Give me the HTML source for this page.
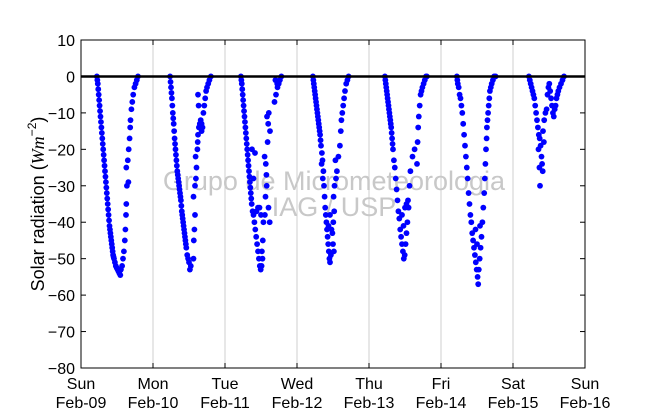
<!DOCTYPE html>
<html><head><meta charset="utf-8"><style>
body{margin:0;background:#fff;}
svg{display:block;font-family:"Liberation Sans",sans-serif;}
</style></head><body>
<svg id="chart" width="650" height="409">
<rect width="650" height="409" fill="#fff"/>
<g id="grid"></g>
<text x="334" y="190" font-size="27" fill="#c8c8c8" text-anchor="middle">Grupo de Micrometeorologia</text>
<text x="334" y="216" font-size="27" fill="#c8c8c8" text-anchor="middle">IAG / USP</text>
<g id="points"></g>
<line id="zeroline" stroke="#000" stroke-width="2.5"/>
<rect x="81" y="40" width="504" height="328" fill="none" stroke="#000" stroke-width="1"/>
<g id="yticks"></g>
<g id="xticks"></g>
<text transform="translate(44,204) rotate(-90)" font-size="18" text-anchor="middle">Solar radiation (<tspan font-family="Liberation Serif" font-style="italic">Wm</tspan><tspan font-size="12" dy="-8">−2</tspan><tspan dy="8">)</tspan></text>
</svg>
<script>
const yTicks=[10,0,-10,-20,-30,-40,-50,-60,-70,-80];
const dayNames=["Sun","Mon","Tue","Wed","Thu","Fri","Sat","Sun"];
const dayDates=["Feb-09","Feb-10","Feb-11","Feb-12","Feb-13","Feb-14","Feb-15","Feb-16"];
const day0=[[5.3,0],[5.45,-1],[5.6,-2],[5.75,-3.5],[5.9,-5],[6.05,-6.5],[6.2,-8],[6.35,-9.5],[6.5,-11],[6.65,-12.5],[6.8,-14],[6.95,-15.5],[7.1,-17],[7.25,-18.5],[7.4,-20],[7.55,-21.5],[7.7,-23],[7.85,-24.5],[8.0,-26],[8.15,-27.5],[8.3,-29],[8.45,-30.5],[8.6,-32],[8.75,-33.5],[8.9,-35],[9.05,-36.5],[9.2,-38],[9.35,-39.5],[9.5,-41],[9.65,-42],[9.8,-43],[9.95,-44],[10.1,-45],[10.25,-46],[10.4,-47],[10.55,-48],[10.7,-49],[10.85,-49.5],[11.0,-50],[11.3,-51],[11.6,-52],[11.9,-52.5],[12.2,-53],[12.5,-53.5],[12.8,-54],[13.1,-54.5],[13.3,-53],[13.7,-52],[14.0,-50],[14.3,-48],[14.6,-45],[14.8,-42],[15.0,-38],[15.1,-35],[15.3,-30],[15.1,-25],[15.6,-23],[15.8,-29],[15.9,-20],[16.2,-17],[16.4,-14],[16.5,-12],[16.8,-9],[17.1,-7],[17.4,-5],[17.8,-3],[18.2,-2],[18.6,-1],[19.0,0]];
const day1=[[5.7,0],[5.85,-1.5],[6.0,-3],[6.15,-4.5],[6.3,-6],[6.45,-8],[6.6,-10],[6.75,-11.5],[6.9,-13],[7.05,-15],[7.2,-17],[7.35,-18.5],[7.5,-20],[7.65,-21.5],[7.8,-23],[7.95,-24.5],[8.1,-26],[8.25,-27],[8.4,-28],[8.55,-29],[8.7,-30],[8.85,-31],[9.0,-32],[9.15,-33],[9.3,-34],[9.45,-35.5],[9.6,-37],[9.75,-38],[9.9,-39],[10.05,-40],[10.2,-41],[10.35,-42],[10.5,-43],[10.65,-44],[10.8,-45],[10.95,-46],[11.1,-47],[11.4,-49],[11.7,-50],[12.0,-51],[12.3,-53],[12.6,-52],[13.5,-50],[13.6,-45],[13.8,-42],[13.5,-33],[14.0,-30],[14.3,-28],[14.5,-25],[14.2,-22],[14.8,-20],[14.9,-18],[15.0,-16],[15.3,-14],[15.6,-13],[15.9,-12],[16.2,-13],[16.5,-14],[15.2,-8],[15.0,-5],[16.8,-10],[17.1,-8],[17.4,-6],[17.7,-4],[18.0,-3],[18.4,-2],[18.8,-1],[19.3,0],[14.0,-38],[16.2,-15]];
const day2=[[5.3,0],[5.45,-1],[5.6,-2],[5.75,-3.5],[5.9,-5],[6.05,-6.5],[6.2,-8],[6.35,-9.5],[6.5,-11],[6.65,-12.5],[6.8,-14],[6.95,-15.5],[7.1,-17],[7.25,-18.5],[7.4,-20],[7.55,-21.5],[7.7,-23],[7.85,-24.5],[8.0,-26],[8.15,-27.5],[8.3,-29],[8.45,-30.5],[8.6,-32],[8.75,-33.5],[8.9,-35],[9.2,-37],[9.5,-38],[9.8,-40],[10.1,-42],[10.4,-44],[10.7,-46],[11.0,-48],[11.3,-50],[11.6,-52],[11.9,-53],[12.2,-52],[12.5,-50],[10.5,-37],[11.0,-36],[11.5,-36],[12.0,-38],[12.8,-40],[12.6,-45],[12.3,-48],[9.0,-20],[10.0,-21],[9.5,-28],[13.3,-38],[13.5,-33],[13.8,-27],[13.6,-24],[13.2,-22],[14.2,-18],[14.4,-13],[14.0,-11],[14.6,-10],[15.0,-15],[13.9,-30],[16.5,-7],[17.0,-5],[17.5,-3],[17.9,-2],[18.3,-1],[18.8,0],[14.9,-40],[14.5,-36],[16.8,-1],[17.4,-2]];
const day3=[[5.3,0],[5.45,-1],[5.6,-2],[5.75,-3],[5.9,-4],[6.05,-5],[6.2,-6],[6.35,-7],[6.5,-8],[6.65,-9],[6.8,-10],[6.95,-11],[7.1,-12],[7.25,-13],[7.4,-14],[7.55,-15],[7.7,-16],[7.85,-17.5],[8.0,-19],[8.3,-21],[8.2,-24],[8.5,-23],[8.8,-26],[8.6,-28],[9.0,-30],[9.2,-33],[9.4,-36],[9.6,-38],[9.8,-40],[10.0,-42],[10.2,-44],[10.4,-46],[10.6,-48],[10.8,-50],[11.0,-51],[11.3,-49],[10.5,-41],[11.5,-42],[11.0,-38],[11.8,-43],[12.1,-40],[12.4,-37],[12.2,-33],[12.5,-30],[13.0,-28],[13.3,-26],[12.8,-23],[13.8,-22],[14.3,-19],[14.6,-15],[14.8,-12],[15.1,-10],[15.4,-8],[15.7,-6],[16.0,-4],[16.4,-2],[16.8,-1],[17.2,0],[12.0,-46],[12.3,-48]];
const day4=[[5.3,0],[5.45,-1],[5.6,-2],[5.75,-3],[5.9,-4],[6.05,-5],[6.2,-6],[6.35,-7],[6.5,-8],[6.65,-9],[6.8,-10],[6.95,-11],[7.1,-12],[7.25,-13],[7.4,-14],[7.55,-15.5],[7.7,-17],[7.85,-18.5],[8.0,-20],[8.3,-23],[8.6,-25],[8.9,-28],[9.2,-31],[9.5,-34],[9.8,-37],[10.1,-39],[10.4,-42],[10.7,-44],[11.0,-46],[11.3,-48],[11.6,-50],[11.9,-49],[12.2,-46],[12.5,-43],[12.8,-40],[11.0,-38],[11.5,-41],[12.0,-36],[12.5,-35],[13.0,-34],[13.2,-36],[13.5,-30],[13.8,-26],[14.5,-22],[15.2,-20],[16.0,-24],[16.2,-18],[16.4,-14],[16.6,-11],[16.9,-8],[17.2,-5],[17.5,-4],[17.8,-3],[18.2,-2],[18.6,-1],[19.0,0],[19.3,0]];
const day5=[[5.3,0],[5.45,-1],[5.6,-2],[5.9,-3],[6.2,-5],[6.5,-6],[6.8,-8],[7.1,-10],[7.4,-13],[7.7,-16],[8.0,-19],[8.3,-22],[8.6,-25],[8.9,-28],[9.2,-32],[9.5,-35],[9.8,-38],[10.1,-40],[10.4,-43],[10.7,-45],[11.0,-47],[11.3,-49],[11.6,-51],[11.9,-53],[12.2,-55],[12.4,-57],[12.6,-53],[12.9,-50],[13.2,-47],[13.5,-44],[13.0,-41],[13.8,-40],[14.1,-36],[14.4,-32],[14.6,-28],[14.8,-24],[15.0,-20],[15.2,-17],[15.3,-14],[15.5,-12],[15.7,-10],[15.9,-8],[16.1,-6],[16.3,-4],[16.6,-3],[16.9,-2],[17.3,-1],[17.7,0],[18.2,0],[11.5,-42],[12.0,-46]];
const day6=[[5.3,0],[5.6,-1],[5.9,-2],[6.2,-3],[6.5,-4],[6.8,-5],[7.1,-6],[7.4,-8],[7.7,-10],[8.0,-12],[8.3,-14],[8.6,-16],[8.9,-17],[9.2,-19],[8.5,-20],[9.5,-22],[8.8,-25],[9.7,-24],[9.0,-30],[10.0,-15],[10.4,-12],[10.8,-10],[11.2,-9],[11.5,-5],[11.8,-3],[12.1,-2],[12.4,-4],[12.7,-6],[13.0,-8],[13.3,-10],[13.6,-11],[13.9,-9],[14.2,-8],[14.5,-6],[14.8,-5],[15.1,-4],[15.5,-3],[16.0,-2],[16.5,-1],[17.0,0],[10.3,-18],[9.9,-26]];
const days=[day0,day1,day2,day3,day4,day5,day6];
const X0=81,DAYW=72,Y0=40,PH=328,YMAX=10,YMIN=-80;
function xh(h){return X0+h*DAYW/24;}
function yv(v){return Y0+(YMAX-v)*PH/(YMAX-YMIN);}
const NS="http://www.w3.org/2000/svg";
function mk(t,a,p){const e=document.createElementNS(NS,t);for(const k in a)e.setAttribute(k,a[k]);p.appendChild(e);return e;}
const grid=document.getElementById('grid'),pts=document.getElementById('points'),yt=document.getElementById('yticks'),xt=document.getElementById('xticks');
const z=document.getElementById('zeroline');
z.setAttribute('x1',X0);z.setAttribute('x2',X0+7*DAYW);z.setAttribute('y1',yv(0));z.setAttribute('y2',yv(0));
for(let d=1;d<7;d++){
 const g=mk('line',{x1:xh(d*24),x2:xh(d*24),y1:Y0,y2:Y0+PH,stroke:'#cfcfcf','stroke-width':1},grid);
 
 
}
days.forEach((arr,d)=>{arr.forEach(p=>{
 const c=mk('circle',{cx:xh(d*24+p[0]),cy:yv(p[1]),r:2.9,fill:'#0000ff'},pts);
 
 
});});
yTicks.forEach(v=>{
 const y=yv(v);
 mk('line',{x1:X0,x2:X0+5,y1:y,y2:y,stroke:'#000'},yt);
 mk('line',{x1:X0+504,x2:X0+499,y1:y,y2:y,stroke:'#000'},yt);
 const t=mk('text',{x:X0-6,y:y+6,'font-size':16,'text-anchor':'end'},yt);
 t.textContent=(v<0?'−':'')+Math.abs(v);
 
 
});
dayNames.forEach((n,i)=>{
 const x=xh(i*24);
 mk('line',{x1:x,x2:x,y1:Y0+PH,y2:Y0+PH-5,stroke:'#000'},xt);
 mk('line',{x1:x,x2:x,y1:Y0,y2:Y0+5,stroke:'#000'},xt);
 const t=mk('text',{x:x,y:389,'font-size':16,'text-anchor':'middle'},xt);
 t.textContent=n;
 
 
 const t2=mk('text',{x:x,y:408,'font-size':16,'text-anchor':'middle'},xt);
 t2.textContent=dayDates[i];
 
 
});
</script>
</body></html>
